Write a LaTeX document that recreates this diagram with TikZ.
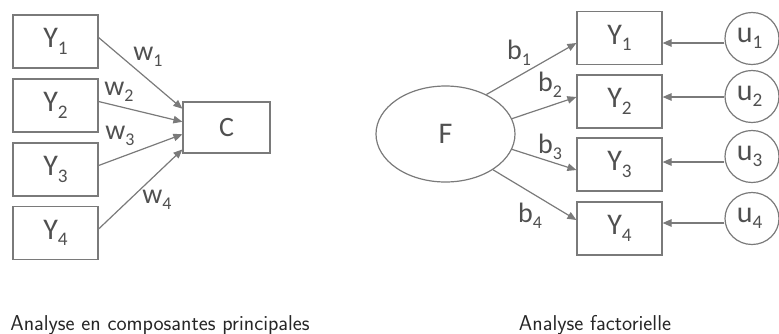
\documentclass[tikz,border=0pt]{standalone}
\usepackage{fontspec}
\setmainfont{Carlito}
\usetikzlibrary{arrows.meta, calc, positioning, shapes.geometric}
\definecolor{linegray}{HTML}{7A7A7A}
\definecolor{textgray}{HTML}{505050}
\newcommand{\idx}[2]{#1\raisebox{-0.22em}{\scalebox{0.64}{#2}}}
\tikzset{
  box/.style={draw=linegray, line width=1.2pt, minimum width=85pt, minimum height=53pt, inner sep=0pt, text=textgray},
  latent/.style={ellipse, draw=linegray, line width=1.2pt, inner sep=0pt, text=textgray},
  arr/.style={linegray, line width=1.2pt, -{Triangle[length=9pt,width=7.5pt]}},
  weight/.style={text=textgray, inner sep=0pt, font=\fontsize{28}{28}\selectfont},
  caption/.style={font=\sffamily\fontsize{21.5}{23}\selectfont, text=black!85, anchor=base, inner sep=0pt}
}

\begin{document}
\begin{tikzpicture}[x=1pt, y=-1pt, font=\fontsize{30}{30}\selectfont]
    \useasboundingbox (0,0) rectangle (779,333);
    % composantes principales
    \foreach \i/\y in {1/41.5, 2/105.5, 3/169.5, 4/233}
      \node[box] (L\i) at (55.5,\y) {\idx{Y}{\i}};
    \node[box, minimum width=87pt, minimum height=51pt, font=\fontsize{28}{28}\selectfont] (C) at (226.5,127.5) {C};
    \foreach \i/\f in {1/0.14, 2/0.39, 3/0.63, 4/0.92}
      \draw[arr] ([yshift=4pt]L\i.east) -- ($(C.north west)!\f!(C.south west)$);
    \foreach \i/\x/\y in {1/148/57, 2/119/92, 3/120/136, 4/157/200}
      \node[weight] (w\i) at (\x,\y) {\idx{w}{\i}};
    % factorielle
    \node[latent, minimum width=139pt, minimum height=96pt] (F) at (445.5,134) {F};
    \foreach \i/\y in {1/38, 2/101.5, 3/164.5, 4/228.5}
      \node[box] (R\i) at (619.5,\y) {\idx{Y}{\i}};
    \foreach \i/\y in {1/38.5, 2/96.5, 3/156.5, 4/218.5}
      \node[latent, minimum width=54pt, minimum height=52pt] (u\i) at (752,\y) {\idx{u}{\i}\hspace*{5pt}};
    \foreach \i/\dy in {1/4.5, 2/0.5, 3/5.5, 4/4.5}
      \draw[arr] ([yshift=-\dy pt]u\i.west) -- ([yshift=-\dy pt]u\i.west -| R\i.east);
    \foreach \a/\i/\dy in {44/1/-5, 13.5/2/4.5, -13/3/-5.5, -37/4/8.5}
      \draw[arr] (F.\a) -- ([yshift=\dy pt]R\i.west);
    \foreach \i/\x/\y in {1/519/53, 2/550/85, 3/550/147, 4/530/216}
      \node[weight] (b\i) at (\x,\y) {\idx{b}{\i}};
    \node[caption] (acp) at (160,330) {Analyse en composantes principales};
    \node[caption] (af) at (595,330) {Analyse factorielle};
  \end{tikzpicture}
\end{document}
